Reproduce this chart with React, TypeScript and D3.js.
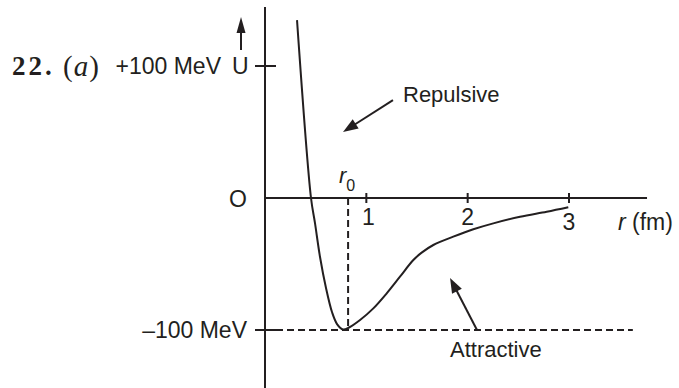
import React from "react";
import * as d3 from "d3";

// potential energy U (MeV) against separation r (fm)
const curveR = [0.316, 0.454, 0.493, 0.543, 0.602, 0.661, 0.711, 0.77, 0.829, 0.938, 1.069, 1.201, 1.332, 1.464, 1.546, 1.661, 1.858, 2.056, 2.253, 2.517, 2.78, 2.993];
const curveU = [134.8, 0, -18.9, -44.7, -68.2, -86.4, -95.5, -99.6, -98.1, -92.4, -83.6, -72.2, -59.6, -47.0, -41.4, -35.6, -29.3, -23.7, -19.2, -14.2, -10.4, -7.0];

const rTicks = [1, 2, 3];
const rTickLabels = ["1", "2", "3"];
const r0 = 0.82;
const uMin = -100;
const uMax = 100;

const sans = "'Liberation Sans', Arial, sans-serif";
const serif = "'Liberation Serif', 'Times New Roman', serif";

const W = 679;
const H = 388;

// filled arrow head + shaft from (x1,y1) to tip (x2,y2)
function Arrow({ x1, y1, x2, y2, len = 15, half = 5.5 }) {
  const dx = x2 - x1;
  const dy = y2 - y1;
  const d = Math.hypot(dx, dy);
  const ux = dx / d;
  const uy = dy / d;
  const bx = x2 - ux * len;
  const by = y2 - uy * len;
  const head = [
    [x2, y2],
    [bx - uy * half, by + ux * half],
    [bx + uy * half, by - ux * half]
  ];
  return (
    <g>
      <line x1={x1} y1={y1} x2={bx + ux * 2} y2={by + uy * 2} stroke="#231f20" strokeWidth={2} />
      <polygon points={head.map(p => p.join(",")).join(" ")} fill="#231f20" />
    </g>
  );
}

export default function App() {
  const x = d3.scaleLinear().domain([0, 3]).range([265, 569]);
  const y = d3.scaleLinear().domain([uMin, uMax]).range([330, 66]);

  const pts = curveR.map((r, i) => [r, curveU[i]]);
  const line = d3
    .line()
    .x(d => x(d[0]))
    .y(d => y(d[1]))
    .curve(d3.curveCatmullRom.alpha(0.5));

  const ink = "#231f20";
  const x0 = x(0);
  const y0 = y(0);

  return (
    <svg
      width={W}
      height={H}
      style={{ position: "absolute", left: 0, top: 0, background: "#fff" }}
    >
      {/* axes */}
      <line x1={x0} y1={7} x2={x0} y2={H} stroke={ink} strokeWidth={2} />
      <line x1={x0} y1={y0} x2={x(3.77)} y2={y0} stroke={ink} strokeWidth={2} />

      {/* U ticks */}
      {[uMax, uMin].map(u => (
        <line key={u} x1={x0 - 10} x2={x0 + 11} y1={y(u)} y2={y(u)} stroke={ink} strokeWidth={2} />
      ))}

      {/* r ticks */}
      {rTicks.map((t, i) => (
        <g key={t}>
          <line x1={x(t)} x2={x(t)} y1={y0 - 5} y2={y0 + 5} stroke={ink} strokeWidth={2} />
          <text
            x={x(t) + (i === 0 ? 2 : 0)}
            y={i === 2 ? 230 : 225}
            textAnchor="middle"
            fontFamily={sans}
            fontSize={23}
            fill={ink}
          >
            {rTickLabels[i]}
          </text>
        </g>
      ))}

      {/* dashed guides */}
      <line x1={x0} x2={x(3.63)} y1={y(uMin)} y2={y(uMin)} stroke={ink} strokeWidth={2} strokeDasharray="7 4" />
      <line x1={x(r0)} x2={x(r0)} y1={y0} y2={y(uMin)} stroke={ink} strokeWidth={2} strokeDasharray="7 4" />

      {/* potential curve */}
      <path d={line(pts)} fill="none" stroke={ink} strokeWidth={2} />

      {/* U axis arrow */}
      <Arrow x1={241} y1={50} x2={241} y2={17} len={16} half={4.5} />

      {/* annotation arrows */}
      <Arrow x1={x(1.263)} y1={y(74.2)} x2={x(0.77)} y2={y(50)} />
      <Arrow x1={x(2.092)} y1={y(-100)} x2={x(1.826)} y2={y(-60.6)} />

      {/* labels */}
      <text x={12} y={75} fontFamily={serif} fontWeight="bold" fontSize={27} letterSpacing={3} fill={ink}>
        22.
      </text>
      <text x={63} y={76} fontFamily={serif} fontSize={29} letterSpacing={1} fill={ink}>
        (<tspan fontStyle="italic">a</tspan>)
      </text>
      <text x={221} y={74} textAnchor="end" fontFamily={sans} fontSize={23} fill={ink}>
        +100 MeV
      </text>
      <text x={232} y={74} fontFamily={sans} fontSize={23} fill={ink}>
        U
      </text>
      <text x={247} y={207} textAnchor="end" fontFamily={sans} fontSize={23} fill={ink}>
        O
      </text>
      <text x={247} y={338} textAnchor="end" fontFamily={sans} fontSize={23} fill={ink}>
        –100 MeV
      </text>
      <text x={618} y={230} fontFamily={sans} fontSize={23} fill={ink}>
        <tspan fontStyle="italic">r</tspan> (fm)
      </text>
      <text x={339} y={183} fontFamily={sans} fontSize={22} fill={ink}>
        <tspan fontStyle="italic">r</tspan>
        <tspan fontSize={16} dy={8}>0</tspan>
      </text>
      <text x={403} y={102} fontFamily={sans} fontSize={22} fill={ink}>
        Repulsive
      </text>
      <text x={450} y={357} fontFamily={sans} fontSize={22} fill={ink}>
        Attractive
      </text>
    </svg>
  );
}
